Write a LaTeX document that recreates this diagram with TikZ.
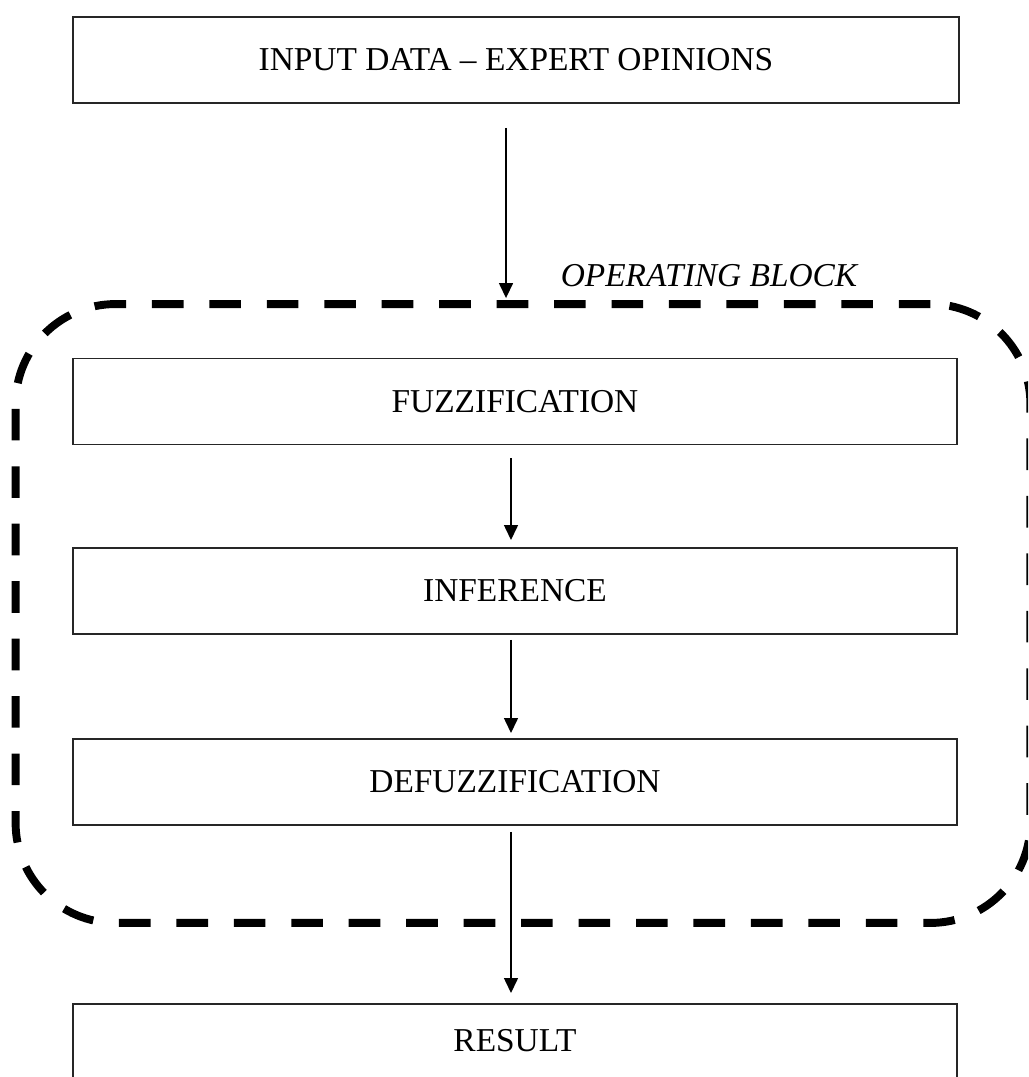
\documentclass[tikz,border=0pt]{standalone}
\usepackage{fontspec}
\setmainfont{Liberation Serif}
\usetikzlibrary{arrows.meta}
\begin{document}
\begin{tikzpicture}[x=0.02cm,y=-0.02cm,
  every node/.style={font=\fontsize{19}{23}\selectfont},
  box/.style={draw=black!85, line width=0.85pt, inner sep=0pt, outer sep=0pt,
    minimum width=17.68cm, minimum height=1.72cm},
  opblock/.style={draw=black, line width=4.5pt, dash pattern=on 18pt off 14.7pt,
    rounded corners=2cm, inner sep=0pt, outer sep=0pt,
    minimum width=20.3cm, minimum height=12.38cm},
  arr/.style={draw=black, line width=0.85pt, -{Triangle[length=0.3cm,width=0.28cm]}}]
\clip (0,0) rectangle (1028,1077);
\node[opblock] (ob) at (523,613.5) {};
\node[box, minimum width=17.72cm] (in) at (516,60) {INPUT DATA – EXPERT OPINIONS};
\node[font=\fontsize{19}{23}\selectfont\itshape] (obl) at (709,276) {OPERATING BLOCK};
\node[box] (fz) at (515,401.5) {FUZZIFICATION};
\node[box] (inf) at (515,591) {INFERENCE};
\node[box] (dfz) at (515,782) {DEFUZZIFICATION};
\node[box, minimum height=1.48cm] (res) at (515,1041) {RESULT};
\draw[arr, shorten <=0.5cm, shorten >=0.12cm] ([xshift=-0.2cm]in.south) -- ([xshift=-0.2cm]in.south |- ob.north);
\draw[arr, shorten <=0.28cm, shorten >=0.16cm] ([xshift=-0.08cm]fz.south) -- ([xshift=-0.08cm]inf.north);
\draw[arr, shorten <=0.12cm, shorten >=0.12cm] ([xshift=-0.08cm]inf.south) -- ([xshift=-0.08cm]dfz.north);
\draw[arr, shorten <=0.14cm, shorten >=0.22cm] ([xshift=-0.08cm]dfz.south) -- ([xshift=-0.08cm]res.north);
\end{tikzpicture}
\end{document}
